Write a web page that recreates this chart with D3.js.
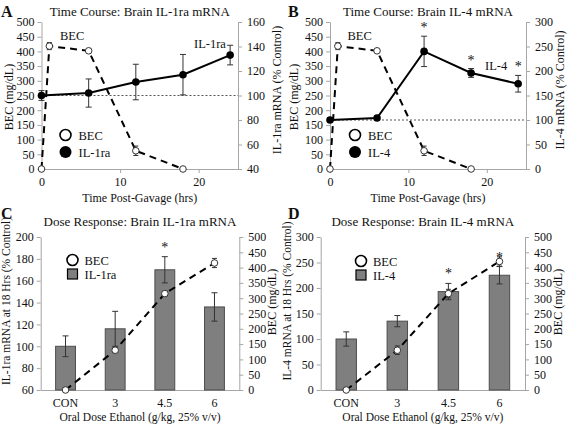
<!DOCTYPE html>
<html><head><meta charset="utf-8">
<script src="https://cdn.jsdelivr.net/npm/d3@7"></script>
<style>body{margin:0;background:#fff}svg{display:block}text{font-family:"Liberation Serif","Times New Roman",serif;fill:#111}</style>
</head><body>
<script>
// ---- Data ----
const timeHrs = [0, 1, 6, 12, 18];
const becTime = [0, 418, 402, 62, 0];
const becTimeErr = [0, 12, 6, 16, 0];
const ilTimeHrs = [0, 6, 12, 18, 24];
const il1raTime = [100, 102, 111, 117, 133];
const il1raTimeErr = [4, 11.5, 14.5, 16.5, 8];
const il4Time = [100, 104, 240, 196, 174];
const il4TimeErr = [4, 4, 31, 9, 17];
const il4TimeSig = [false, false, true, true, true];

const doses = ["CON", "3", "4.5", "6"];
const il1raDose = [100, 116, 170, 136];
const il1raDoseErr = [9.5, 16, 12, 13];
const il1raDoseSig = [false, false, true, false];
const becDose1 = [0, 130, 315, 415];
const becDose1Err = [0, 8, 8, 15];
const il4Dose = [100, 135, 193, 225];
const il4DoseErr = [14, 11, 16, 17];
const il4DoseSig = [false, false, true, true];
const becDose2 = [0, 130, 315, 420];
const becDose2Err = [0, 14, 14, 15];

const W = 567, H = 424;
const svg = d3.select("body").append("svg").attr("width", W).attr("height", H);
const AX = "#a6a6a6";
const TICK = 12;

function styleAxis(g){
  g.attr("font-family", null).attr("font-size", null);
  g.selectAll("path").attr("stroke", AX);
  g.selectAll("line").attr("stroke", AX);
  g.selectAll("text").attr("font-size", TICK).attr("fill", "#111");
}
function errBar(g, x, y1, y2, cap, col){
  g.append("line").attr("x1",x).attr("x2",x).attr("y1",y1).attr("y2",y2).attr("stroke",col).attr("stroke-width",1);
  g.append("line").attr("x1",x-cap).attr("x2",x+cap).attr("y1",y1).attr("y2",y1).attr("stroke",col).attr("stroke-width",1);
  g.append("line").attr("x1",x-cap).attr("x2",x+cap).attr("y1",y2).attr("y2",y2).attr("stroke",col).attr("stroke-width",1);
}
function txt(x, y, s, opts={}){
  const t = svg.append("text").attr("x",x).attr("y",y).text(s)
    .attr("font-size", opts.size||12.5).attr("text-anchor", opts.anchor||"start");
  if(opts.bold) t.attr("font-weight","bold");
  if(opts.rot) t.attr("transform",`rotate(${opts.rot},${x},${y})`);
  if(opts.fill) t.attr("fill", opts.fill);
  return t;
}

// ---- Time course panels ----
function timePanel(cfg){
  const x = d3.scaleLinear().domain([0,25]).range([cfg.x0, cfg.x1]);
  const yL = d3.scaleLinear().domain([0,500]).range([169, 22]);
  const yR = d3.scaleLinear().domain(cfg.rDom).range([169, 22]);
  const g = svg.append("g");
  const gx = g.append("g").attr("transform",`translate(0,169)`)
    .call(d3.axisBottom(x).tickValues([0,10,20]).tickSize(4).tickSizeOuter(0).tickPadding(4));
  styleAxis(gx);
  const gl = g.append("g").attr("transform",`translate(${cfg.x0},0)`)
    .call(d3.axisLeft(yL).tickValues(d3.range(0,501,50)).tickSize(4).tickSizeOuter(0).tickPadding(3));
  styleAxis(gl);
  const gr = g.append("g").attr("transform",`translate(${cfg.x1},0)`)
    .call(d3.axisRight(yR).tickValues(cfg.rTicks).tickSize(4).tickSizeOuter(0).tickPadding(5));
  styleAxis(gr);
  g.append("line").attr("x1",cfg.x0).attr("x2",cfg.x1).attr("y1",yR(100)).attr("y2",yR(100))
    .attr("stroke","#555").attr("stroke-width",1).attr("stroke-dasharray","2,2");
  const becPts = timeHrs.map((t,i)=>[x(t), yL(becTime[i])]);
  g.append("path").attr("d", d3.line()(becPts)).attr("fill","none").attr("stroke","#000")
    .attr("stroke-width",2).attr("stroke-dasharray","7,5");
  timeHrs.forEach((t,i)=>{ if(becTimeErr[i]>0) errBar(g, x(t), yL(becTime[i]+becTimeErr[i]), yL(becTime[i]-becTimeErr[i]), 2.5, "#333"); });
  timeHrs.forEach((t,i)=>{ g.append("circle").attr("cx",x(t)).attr("cy",yL(becTime[i])).attr("r",3.3).attr("fill","#fff").attr("stroke","#333").attr("stroke-width",1); });
  const vals = cfg.il, errs = cfg.ilErr;
  g.append("path").attr("d", d3.line()(ilTimeHrs.map((t,i)=>[x(t), yR(vals[i])]))).attr("fill","none").attr("stroke","#000").attr("stroke-width",2);
  ilTimeHrs.forEach((t,i)=>{ errBar(g, x(t), yR(vals[i]+errs[i]), yR(vals[i]-errs[i]), 3, "#333"); });
  ilTimeHrs.forEach((t,i)=>{ g.append("circle").attr("cx",x(t)).attr("cy",yR(vals[i])).attr("r",3.8).attr("fill","#000"); });
  if(cfg.sig) ilTimeHrs.forEach((t,i)=>{ if(cfg.sig[i]) txt(x(t), yR(vals[i]+errs[i])-4, "*", {anchor:"middle", size:14, fill:"#333"}); });
  g.append("circle").attr("cx",cfg.legX).attr("cy",135).attr("r",5.5).attr("fill","#fff").attr("stroke","#000").attr("stroke-width",1.6);
  g.append("circle").attr("cx",cfg.legX).attr("cy",152).attr("r",6).attr("fill","#000");
  txt(cfg.legX+13, 139.5, "BEC", {size:12.5});
  txt(cfg.legX+13, 156.5, cfg.name, {size:12.5});
  txt(cfg.becLab[0], cfg.becLab[1], "BEC", {size:12.5});
  txt(cfg.ilLab[0], cfg.ilLab[1], cfg.name, {size:12.5});
  txt((cfg.x0+cfg.x1)/2, 16, cfg.title, {anchor:"middle", size:13});
  txt(cfg.letX, 17, cfg.letter, {size:16, bold:true});
  txt((cfg.x0+cfg.x1)/2, 202, "Time Post-Gavage (hrs)", {anchor:"middle", size:12});
  txt(cfg.lLabX, 97, "BEC (mg/dL)", {anchor:"middle", size:12, rot:-90});
  txt(cfg.rLabX, 90, cfg.rLab, {anchor:"middle", size:12, rot:-90});
}

timePanel({x0:41.5, x1:238, rDom:[40,160], rTicks:d3.range(40,161,20), il:il1raTime, ilErr:il1raTimeErr,
  name:"IL-1ra", legX:65.5, becLab:[60,40], ilLab:[194,48], title:"Time Course: Brain IL-1ra mRNA", letter:"A", letX:1,
  lLabX:13, rLabX:281, rLab:"IL-1ra mRNA (% Control)"});
timePanel({x0:330, x1:526, rDom:[0,300], rTicks:d3.range(0,301,50), il:il4Time, ilErr:il4TimeErr, sig:il4TimeSig,
  name:"IL-4", legX:355, becLab:[347.5,40], ilLab:[485,70], title:"Time Course: Brain IL-4 mRNA", letter:"B", letX:288,
  lLabX:298, rLabX:564, rLab:"IL-4 mRNA (% Control)"});

// ---- Dose response panels ----
function dosePanel(cfg){
  const x = d3.scaleBand().domain(doses).range([cfg.x0, cfg.x1]).paddingInner(0.6).paddingOuter(0.3);
  const yL = d3.scaleLinear().domain(cfg.lDom).range([390, 237]);
  const yR = d3.scaleLinear().domain([0,500]).range([390, 237]);
  const g = svg.append("g");
  const gx = g.append("g").attr("transform",`translate(0,390)`)
    .call(d3.axisBottom(x).tickSize(0).tickPadding(8));
  styleAxis(gx);
  const gl = g.append("g").attr("transform",`translate(${cfg.x0},0)`)
    .call(d3.axisLeft(yL).tickValues(cfg.lTicks).tickSize(4).tickSizeOuter(0).tickPadding(3));
  styleAxis(gl);
  const gr = g.append("g").attr("transform",`translate(${cfg.x1},0)`)
    .call(d3.axisRight(yR).tickValues(d3.range(0,501,50)).tickSize(4).tickSizeOuter(0).tickPadding(5));
  styleAxis(gr);
  doses.forEach((d,i)=>{
    g.append("rect").attr("x",x(d)).attr("width",x.bandwidth()).attr("y",yL(cfg.vals[i])).attr("height",390-yL(cfg.vals[i]))
      .attr("fill","#7f7f7f").attr("stroke","#4d4d4d").attr("stroke-width",1);
  });
  doses.forEach((d,i)=>{
    const cx = x(d)+x.bandwidth()/2;
    errBar(g, cx, yL(cfg.vals[i]+cfg.errs[i]), yL(cfg.vals[i]-cfg.errs[i]), 3, "#333");
    if(cfg.sig[i]) txt(cx, yL(cfg.vals[i]+cfg.errs[i])-5, "*", {anchor:"middle", size:14, fill:"#777"});
  });
  const pts = doses.map((d,i)=>[x(d)+x.bandwidth()/2, yR(cfg.bec[i])]);
  g.append("path").attr("d", d3.line()(pts)).attr("fill","none").attr("stroke","#000").attr("stroke-width",2).attr("stroke-dasharray","7,5");
  doses.forEach((d,i)=>{ if(cfg.becErr[i]>0) errBar(g, pts[i][0], yR(cfg.bec[i]+cfg.becErr[i]), yR(cfg.bec[i]-cfg.becErr[i]), 2.5, "#333"); });
  pts.forEach(p=>{ g.append("circle").attr("cx",p[0]).attr("cy",p[1]).attr("r",3.3).attr("fill","#fff").attr("stroke","#333").attr("stroke-width",1); });
  g.append("circle").attr("cx",cfg.legX).attr("cy",cfg.legY).attr("r",5.5).attr("fill","#fff").attr("stroke","#000").attr("stroke-width",1.6);
  g.append("rect").attr("x",cfg.legX-5).attr("y",cfg.legY+9).attr("width",10).attr("height",10).attr("fill","#7f7f7f").attr("stroke","#000").attr("stroke-width",1.2);
  txt(cfg.legX+12, cfg.legY+4.5, "BEC", {size:12.5});
  txt(cfg.legX+12, cfg.legY+18.5, cfg.name, {size:12.5});
  txt((cfg.x0+cfg.x1)/2, 226, cfg.title, {anchor:"middle", size:13});
  txt(cfg.letX, 219, cfg.letter, {size:16, bold:true});
  txt((cfg.x0+cfg.x1)/2, 421, "Oral Dose Ethanol (g/kg, 25% v/v)", {anchor:"middle", size:11.5});
  txt(cfg.lLabX, 301, cfg.lLab, {anchor:"middle", size:11.5, rot:-90});
  txt(cfg.rLabX, 302, "BEC (mg/dL)", {anchor:"middle", size:12, rot:-90});
}

dosePanel({x0:40.7, x1:239.3, lDom:[60,200], lTicks:d3.range(60,201,20), vals:il1raDose, errs:il1raDoseErr, sig:il1raDoseSig,
  bec:becDose1, becErr:becDose1Err, name:"IL-1ra", legX:72.5, legY:260, title:"Dose Response: Brain IL-1ra mRNA", letter:"C", letX:1,
  lLabX:10, rLabX:276, lLab:"IL-1ra mRNA at 18 Hrs  (% Control)"});
dosePanel({x0:320.7, x1:525, lDom:[0,300], lTicks:d3.range(0,301,50), vals:il4Dose, errs:il4DoseErr, sig:il4DoseSig,
  bec:becDose2, becErr:becDose2Err, name:"IL-4", legX:361, legY:261, title:"Dose Response: Brain IL-4 mRNA", letter:"D", letX:288,
  lLabX:291, rLabX:562, lLab:"IL-4 mRNA at 18 Hrs  (% Control)"});
</script>
</body></html>
